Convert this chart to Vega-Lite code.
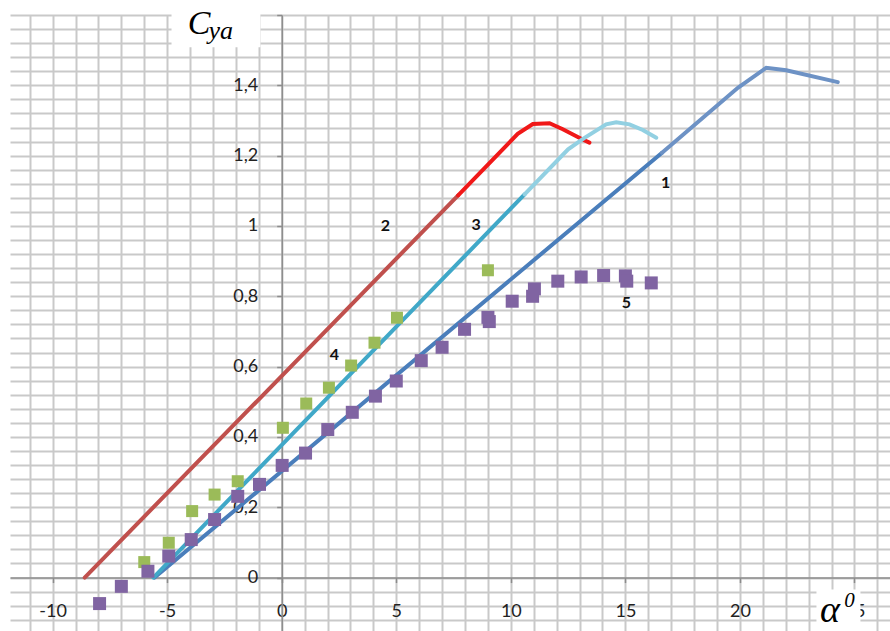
{
  "$schema": "https://vega.github.io/schema/vega-lite/v6.json",
  "width": 880,
  "height": 616,
  "autosize": {"type": "none"},
  "padding": {"left": 10, "top": 15, "right": 0, "bottom": 0},
  "background": "white",
  "config": {"view": {"stroke": null}},
  "resolve": {"scale": {"color": "independent", "size": "independent"}},
  "datasets": {
    "lines": [
      {"seg": "1a", "x": -5.55, "y": 0}, {"seg": "1a", "x": 16.6, "y": 1.208},
      {"seg": "1b", "x": 16.6, "y": 1.208}, {"seg": "1b", "x": 19.91, "y": 1.393}, {"seg": "1b", "x": 21.15, "y": 1.45}, {"seg": "1b", "x": 22.02, "y": 1.443}, {"seg": "1b", "x": 24.27, "y": 1.409},
      {"seg": "2a", "x": -8.6, "y": 0}, {"seg": "2a", "x": 7.7, "y": 1.087},
      {"seg": "2b", "x": 7.7, "y": 1.087}, {"seg": "2b", "x": 10.3, "y": 1.262}, {"seg": "2b", "x": 10.96, "y": 1.29}, {"seg": "2b", "x": 11.69, "y": 1.292}, {"seg": "2b", "x": 12.27, "y": 1.275}, {"seg": "2b", "x": 13.07, "y": 1.248}, {"seg": "2b", "x": 13.43, "y": 1.237},
      {"seg": "3a", "x": -5.6, "y": 0}, {"seg": "3a", "x": 10.6, "y": 1.09},
      {"seg": "3b", "x": 10.6, "y": 1.09}, {"seg": "3b", "x": 12.5, "y": 1.218}, {"seg": "3b", "x": 13.2, "y": 1.25}, {"seg": "3b", "x": 14.16, "y": 1.289}, {"seg": "3b", "x": 14.6, "y": 1.295}, {"seg": "3b", "x": 15.18, "y": 1.289}, {"seg": "3b", "x": 15.76, "y": 1.273}, {"seg": "3b", "x": 16.35, "y": 1.251}
    ],
    "points": [
      {"s": "4", "x": -6, "y": 0.044}, {"s": "4", "x": -4.93, "y": 0.099}, {"s": "4", "x": -3.91, "y": 0.189}, {"s": "4", "x": -2.93, "y": 0.236}, {"s": "4", "x": -1.92, "y": 0.274}, {"s": "4", "x": 0.05, "y": 0.426}, {"s": "4", "x": 1.07, "y": 0.495}, {"s": "4", "x": 2.06, "y": 0.54}, {"s": "4", "x": 3.03, "y": 0.603}, {"s": "4", "x": 4.05, "y": 0.668}, {"s": "4", "x": 5.03, "y": 0.739}, {"s": "4", "x": 9, "y": 0.874},
      {"s": "5", "x": -7.95, "y": -0.074}, {"s": "5", "x": -7, "y": -0.025}, {"s": "5", "x": -5.84, "y": 0.018}, {"s": "5", "x": -4.93, "y": 0.061}, {"s": "5", "x": -3.95, "y": 0.108}, {"s": "5", "x": -2.93, "y": 0.165}, {"s": "5", "x": -1.92, "y": 0.231}, {"s": "5", "x": -0.97, "y": 0.265}, {"s": "5", "x": 0.02, "y": 0.319}, {"s": "5", "x": 1.04, "y": 0.354}, {"s": "5", "x": 2.01, "y": 0.421}, {"s": "5", "x": 3.08, "y": 0.47}, {"s": "5", "x": 4.09, "y": 0.516}, {"s": "5", "x": 5, "y": 0.559}, {"s": "5", "x": 6.09, "y": 0.617}, {"s": "5", "x": 7, "y": 0.655}, {"s": "5", "x": 7.98, "y": 0.706}, {"s": "5", "x": 9, "y": 0.74}, {"s": "5", "x": 9.06, "y": 0.728}, {"s": "5", "x": 10.06, "y": 0.786}, {"s": "5", "x": 11.03, "y": 0.821}, {"s": "5", "x": 10.95, "y": 0.8}, {"s": "5", "x": 12.05, "y": 0.843}, {"s": "5", "x": 13.07, "y": 0.855}, {"s": "5", "x": 14.05, "y": 0.859}, {"s": "5", "x": 15, "y": 0.858}, {"s": "5", "x": 15.06, "y": 0.843}, {"s": "5", "x": 16.13, "y": 0.838}
    ],
    "labels": [
      {"t": "1", "x": 16.76, "y": 1.123}, {"t": "2", "x": 4.53, "y": 0.999}, {"t": "3", "x": 8.49, "y": 1.004}, {"t": "4", "x": 2.3, "y": 0.632}, {"t": "5", "x": 15.04, "y": 0.781}
    ],
    "boxes": [
      {"x": -4.81, "x2": -0.93, "y": 1.508, "y2": 1.66},
      {"x": 23.34, "x2": 25.26, "y": -0.034, "y2": -0.16}
    ],
    "tC": [{"t": "C", "x": -4.1, "y": 1.545}],
    "tya": [{"t": "ya", "x": -3.2, "y": 1.531}],
    "talpha": [{"t": "α", "x": 23.5, "y": -0.125}],
    "tzero": [{"t": "0", "x": 24.55, "y": -0.083}]
  },
  "layer": [
    {
      "data": {"name": "lines"},
      "mark": {"type": "line", "strokeWidth": 4, "strokeCap": "round"},
      "encoding": {
        "x": {
          "field": "x", "type": "quantitative",
          "scale": {"domain": [-11.86, 26.55], "nice": false, "zero": false},
          "axis": {
            "orient": "bottom", "offset": -53.44, "title": null, "tickCount": 500,
            "values": [-11,-10,-9,-8,-7,-6,-5,-4,-3,-2,-1,0,1,2,3,4,5,6,7,8,9,10,11,12,13,14,15,16,17,18,19,20,21,22,23,24,25,26],
            "grid": true, "gridColor": "#c9c9c9", "gridWidth": 2,
            "domainColor": "#8c8c8c", "domainWidth": 1.5,
            "tickColor": "#8c8c8c", "tickWidth": 1.5, "tickSize": 5,
            "tickOpacity": {"condition": {"test": "abs(datum.value % 5) < 0.001", "value": 1}, "value": 0},
            "labelExpr": "abs(datum.value % 5) < 0.001 && datum.value >= -10 && datum.value <= 25 ? '' + datum.value : ''",
            "labelFont": "Lato", "labelFontSize": 18, "labelColor": "#222222",
            "labelPadding": 20, "labelOverlap": false, "labelFlush": false, "labelBound": false
          }
        },
        "y": {
          "field": "y", "type": "quantitative",
          "scale": {"domain": [-0.152, 1.6], "nice": false, "zero": false},
          "axis": {
            "orient": "left", "offset": -271.7, "title": null, "tickCount": 500,
            "values": [-0.12,-0.08,-0.04,0,0.04,0.08,0.12,0.16,0.2,0.24,0.28,0.32,0.36,0.4,0.44,0.48,0.52,0.56,0.6,0.64,0.68,0.72,0.76,0.8,0.84,0.88,0.92,0.96,1,1.04,1.08,1.12,1.16,1.2,1.24,1.28,1.32,1.36,1.4,1.44,1.48,1.52,1.56,1.6],
            "grid": true, "gridColor": "#c9c9c9", "gridWidth": 2,
            "domainColor": "#8c8c8c", "domainWidth": 1.5,
            "tickColor": "#8c8c8c", "tickWidth": 1.5, "tickSize": 5,
            "tickOpacity": {"condition": {"test": "abs(datum.value * 5 - round(datum.value * 5)) < 0.001", "value": 1}, "value": 0},
            "labelExpr": "abs(datum.value * 5 - round(datum.value * 5)) < 0.001 && datum.value > -0.001 && datum.value < 1.401 ? replace(format(datum.value, '~g'), '.', ',') : ''",
            "labelFont": "Lato", "labelFontSize": 18, "labelColor": "#222222",
            "labelPadding": 19, "labelOverlap": false, "labelFlush": false, "labelBound": false
          }
        },
        "color": {
          "field": "seg", "type": "nominal", "legend": null,
          "scale": {"domain": ["1a","1b","2a","2b","3a","3b"], "range": ["#4a7ebb","#6d92c5","#c0504d","#f01818","#40a8c8","#92d0e2"]}
        }
      }
    },
    {
      "data": {"name": "points"},
      "mark": {"type": "point", "shape": "square", "filled": true, "opacity": 1},
      "encoding": {
        "x": {"field": "x", "type": "quantitative"},
        "y": {"field": "y", "type": "quantitative"},
        "color": {"field": "s", "type": "nominal", "legend": null, "scale": {"domain": ["4","5"], "range": ["#9bbb59","#8064a2"]}},
        "size": {"field": "s", "type": "nominal", "legend": null, "scale": {"domain": ["4","5"], "range": [144, 169]}},
        "order": {"field": "s", "type": "nominal"}
      }
    },
    {
      "data": {"name": "labels"},
      "mark": {"type": "text", "font": "Lato", "fontSize": 16, "fontWeight": "bold", "color": "#111111", "align": "center", "baseline": "middle"},
      "encoding": {
        "x": {"field": "x", "type": "quantitative"},
        "y": {"field": "y", "type": "quantitative"},
        "text": {"field": "t"}
      }
    },
    {
      "data": {"name": "boxes"},
      "mark": {"type": "rect", "color": "white", "opacity": 1},
      "encoding": {
        "x": {"field": "x", "type": "quantitative"},
        "x2": {"field": "x2"},
        "y": {"field": "y", "type": "quantitative"},
        "y2": {"field": "y2"}
      }
    },
    {
      "data": {"name": "tC"},
      "mark": {"type": "text", "font": "Liberation Serif", "fontStyle": "italic", "fontSize": 34, "color": "black", "align": "left", "baseline": "alphabetic"},
      "encoding": {"x": {"field": "x", "type": "quantitative"}, "y": {"field": "y", "type": "quantitative"}, "text": {"field": "t"}}
    },
    {
      "data": {"name": "tya"},
      "mark": {"type": "text", "font": "Liberation Serif", "fontStyle": "italic", "fontSize": 26, "color": "black", "align": "left", "baseline": "alphabetic"},
      "encoding": {"x": {"field": "x", "type": "quantitative"}, "y": {"field": "y", "type": "quantitative"}, "text": {"field": "t"}}
    },
    {
      "data": {"name": "talpha"},
      "mark": {"type": "text", "font": "Liberation Serif", "fontStyle": "italic", "fontSize": 38, "color": "black", "align": "left", "baseline": "alphabetic"},
      "encoding": {"x": {"field": "x", "type": "quantitative"}, "y": {"field": "y", "type": "quantitative"}, "text": {"field": "t"}}
    },
    {
      "data": {"name": "tzero"},
      "mark": {"type": "text", "font": "Liberation Serif", "fontStyle": "italic", "fontSize": 21, "color": "black", "align": "left", "baseline": "alphabetic"},
      "encoding": {"x": {"field": "x", "type": "quantitative"}, "y": {"field": "y", "type": "quantitative"}, "text": {"field": "t"}}
    }
  ]
}
